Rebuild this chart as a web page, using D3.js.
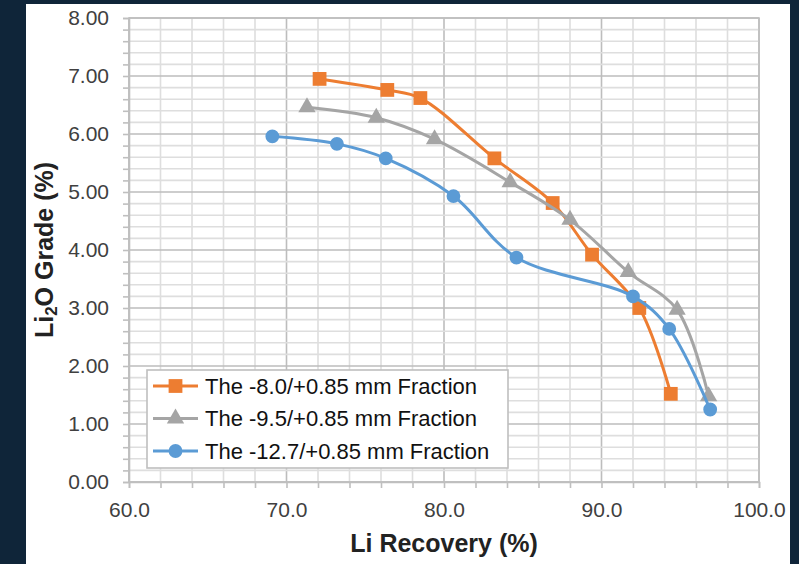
<!DOCTYPE html>
<html>
<head>
<meta charset="utf-8">
<script src="https://cdn.jsdelivr.net/npm/d3@7"></script>
<style>
  html, body { margin: 0; padding: 0; background: #0f2539; }
  #chart { position: absolute; left: 26px; top: 4px; width: 764px; height: 560px; background: #fff; }
  text { font-family: Arial, "Liberation Sans", sans-serif; }
</style>
</head>
<body>
<div id="chart"></div>
<script>
// Series: Li recovery (%) vs Li2O grade (%)
var seriesNames = ["The -8.0/+0.85 mm Fraction", "The -9.5/+0.85 mm Fraction", "The -12.7/+0.85 mm Fraction"];
var seriesColors = ["#ED7D31", "#A5A5A5", "#5B9BD5"];
var seriesMarkers = ["square", "triangle", "circle"];

var recovery8 = [72.1, 76.4, 78.5, 83.2, 86.9, 89.4, 92.4, 94.4];
var grade8    = [6.95, 6.76, 6.62, 5.58, 4.81, 3.92, 3.00, 1.52];

var recovery95 = [71.3, 75.7, 79.4, 84.2, 88.0, 91.7, 94.8, 96.8];
var grade95    = [6.46, 6.28, 5.91, 5.17, 4.52, 3.62, 2.97, 1.48];

var recovery127 = [69.1, 73.2, 76.3, 80.6, 84.6, 92.0, 94.3, 96.9];
var grade127    = [5.96, 5.83, 5.58, 4.93, 3.87, 3.20, 2.64, 1.25];

var xTicks = [60, 70, 80, 90, 100];
var yTicks = [0, 1, 2, 3, 4, 5, 6, 7, 8];

function init() {
    var w = 764, h = 560;
    var left = 103, top = 14, right = 733, bottom = 478; // plot box inside the panel

    var svg = d3.select("#chart").append("svg")
                .attr("width", w)
                .attr("height", h);

    var xScale = d3.scaleLinear().domain([60, 100]).range([left, right]);
    var yScale = d3.scaleLinear().domain([0, 8]).range([bottom, top]);

    var xMinor = d3.range(60, 100.001, 2);
    var yMinor = d3.range(0, 8.001, 0.2).map(function(d){ return Math.round(d * 10) / 10; });

    // minor grid
    var grid = svg.append("g");
    grid.selectAll("line.vx")
        .data(xMinor)
        .enter().append("line")
        .attr("x1", function(d){ return xScale(d); })
        .attr("x2", function(d){ return xScale(d); })
        .attr("y1", top).attr("y2", bottom)
        .attr("stroke", function(d){ return d % 10 === 0 ? "#bdbdbd" : "#dedede"; })
        .attr("stroke-width", 1.6);
    grid.selectAll("line.hy")
        .data(yMinor)
        .enter().append("line")
        .attr("y1", function(d){ return yScale(d); })
        .attr("y2", function(d){ return yScale(d); })
        .attr("x1", left).attr("x2", right)
        .attr("stroke", function(d){ return Math.abs(d - Math.round(d)) < 1e-6 ? "#bdbdbd" : "#dedede"; })
        .attr("stroke-width", 1.6);

    // plot border
    svg.append("rect")
        .attr("x", left).attr("y", top)
        .attr("width", right - left).attr("height", bottom - top)
        .attr("fill", "none")
        .attr("stroke", "#bfbfbf")
        .attr("stroke-width", 1.6);

    // axes
    var yAxis = d3.axisLeft(yScale)
                  .tickValues(yMinor)
                  .tickSize(6)
                  .tickPadding(14)
                  .tickFormat(function(d){ return yTicks.indexOf(d) >= 0 ? d3.format(".2f")(d) : ""; });
    var gy = svg.append("g")
                .attr("transform", "translate(" + left + ",0)")
                .call(yAxis);

    var xAxis = d3.axisBottom(xScale)
                  .tickValues(xMinor)
                  .tickSize(6)
                  .tickPadding(14)
                  .tickFormat(function(d){ return xTicks.indexOf(d) >= 0 ? d3.format(".1f")(d) : ""; });
    var gx = svg.append("g")
                .attr("transform", "translate(0," + bottom + ")")
                .call(xAxis);

    [gx, gy].forEach(function(g){
        g.select(".domain").attr("stroke", "#bfbfbf").attr("stroke-width", 1.6);
        g.selectAll(".tick line").attr("stroke", "#bfbfbf").attr("stroke-width", 1.6);
        g.selectAll(".tick text")
         .attr("fill", "#404040")
         .style("font-size", "21px")
         .style("font-family", "Arial, 'Liberation Sans', sans-serif");
    });

    // axis titles
    svg.append("text")
        .attr("x", (left + right) / 2)
        .attr("y", 548)
        .attr("text-anchor", "middle")
        .attr("fill", "#222")
        .style("font-size", "25px")
        .style("font-weight", "bold")
        .text("Li Recovery (%)");

    var yt = svg.append("text")
        .attr("transform", "translate(27," + ((top + bottom) / 2) + ") rotate(-90)")
        .attr("text-anchor", "middle")
        .attr("fill", "#222")
        .style("font-size", "25px")
        .style("font-weight", "bold");
    yt.append("tspan").text("Li");
    yt.append("tspan").attr("baseline-shift", "-25%").style("font-size", "17px").text("2");
    yt.append("tspan").text("O Grade (%)");

    var data = [
        d3.zip(recovery8, grade8),
        d3.zip(recovery95, grade95),
        d3.zip(recovery127, grade127)
    ];

    var line = d3.line()
                 .x(function(d){ return xScale(d[0]); })
                 .y(function(d){ return yScale(d[1]); })
                 .curve(d3.curveCatmullRom.alpha(0.5));

    function symbolFor(kind) {
        if (kind === "square") return d3.symbol().type(d3.symbolSquare).size(190);
        if (kind === "triangle") return d3.symbol().type(d3.symbolTriangle).size(130);
        return d3.symbol().type(d3.symbolCircle).size(150);
    }

    data.forEach(function(pts, i){
        var g = svg.append("g");
        g.append("path")
         .attr("d", line(pts))
         .attr("fill", "none")
         .attr("stroke", seriesColors[i])
         .attr("stroke-width", 3);
        g.selectAll("path.m")
         .data(pts)
         .enter().append("path")
         .attr("class", "m")
         .attr("transform", function(d){ return "translate(" + xScale(d[0]) + "," + yScale(d[1]) + ")"; })
         .attr("d", symbolFor(seriesMarkers[i]))
         .attr("fill", seriesColors[i]);
    });

    // legend
    var lg = svg.append("g").attr("transform", "translate(121,366)");
    lg.append("rect")
      .attr("width", 361).attr("height", 98)
      .attr("fill", "#fff")
      .attr("stroke", "#bfbfbf")
      .attr("stroke-width", 1.6);
    var rows = lg.selectAll("g.row")
                 .data(seriesNames)
                 .enter().append("g")
                 .attr("transform", function(d, i){ return "translate(0," + (16 + i * 32.5) + ")"; });
    rows.append("line")
        .attr("x1", 6).attr("x2", 51)
        .attr("stroke", function(d, i){ return seriesColors[i]; })
        .attr("stroke-width", 3);
    rows.append("path")
        .attr("transform", "translate(28.5,0)")
        .attr("d", function(d, i){ return symbolFor(seriesMarkers[i])(); })
        .attr("fill", function(d, i){ return seriesColors[i]; });
    rows.append("text")
        .attr("x", 58)
        .attr("dy", "0.36em")
        .attr("fill", "#111")
        .style("font-size", "22px")
        .text(function(d){ return d; });
}

window.onload = init;
</script>
</body>
</html>
